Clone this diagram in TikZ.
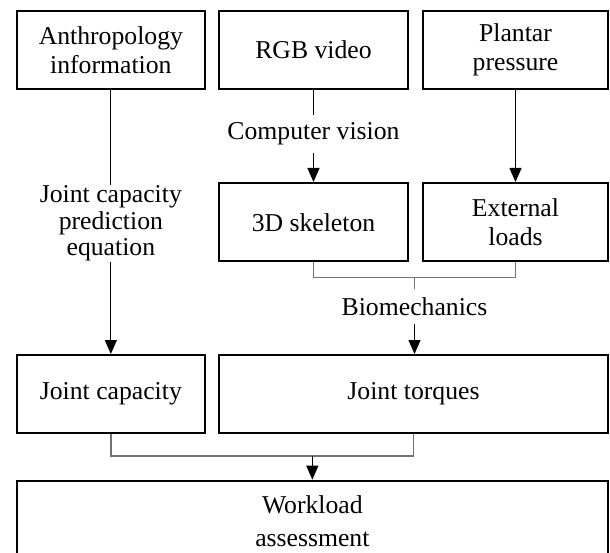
\documentclass[tikz,border=0pt]{standalone}
\usepackage{fontspec}
\setmainfont{Liberation Serif}
\usetikzlibrary{arrows.meta}
\tikzset{
  txt/.style={font=\fontsize{25.7}{28.5}\selectfont, align=center},
  box/.style={txt, draw=black, line width=2pt, inner sep=0pt},
  lbl/.style={txt, inner sep=0pt},
  conn/.style={draw=black, line width=1pt},
  arr/.style={conn, -{Triangle[width=12pt,length=14pt]}},
  brk/.style={draw=black!55, line width=1.4pt},
}
\begin{document}
\begin{tikzpicture}[x=1pt,y=-1pt]
  \useasboundingbox (0,0) rectangle (610,553);
  \begin{scope}
  \clip (0,0) rectangle (610,553);
  % top row
  \node[box, minimum width=188.3pt, minimum height=78pt] (anth) at (110.85,50) {Anthropology\\information};
  \node[box, minimum width=189pt, minimum height=78pt] (rgb) at (313.5,50) {RGB video};
  \node[box, minimum width=185pt, minimum height=78pt] (plant) at (515.5,50) {Plantar\\pressure};
  % second row
  \node[box, minimum width=189pt, minimum height=78.5pt] (skel) at (313.5,222.25) {3D skeleton};
  \node[box, minimum width=185pt, minimum height=78.5pt] (ext) at (515.5,222.25) {External\\loads};
  % third row
  \node[box, minimum width=188.3pt, minimum height=77.7pt] (jcap) at (110.85,393.85) {Joint capacity};
  \node[box, minimum width=389pt, minimum height=77.7pt] (jtor) at (413.5,393.85) {Joint torques};
  % bottom
  \node[box, minimum width=591.3pt, minimum height=81.3pt] (work) at (312.35,521.35) {Workload\\[4pt]assessment};

  % connector labels
  \node[lbl, minimum height=77pt] (jcpe) at (110.85,223.5) {Joint capacity\\[-2pt]prediction\\[-2pt]equation};
  \node[lbl, minimum height=38pt] (cv) at (313.5,134) {Computer vision};
  \node[lbl, minimum height=35pt] (bio) at (414.5,306.5) {Biomechanics};

  % connectors
  \draw[conn] (anth.south) -- (jcpe.north);
  \draw[arr] (jcpe.south) -- (jcap.north);
  \draw[conn] (rgb.south) -- (cv.north);
  \draw[arr] (cv.south) -- (skel.north);
  \draw[arr] (plant.south) -- (ext.south |- ext.north);

  % biomechanics bracket
  \coordinate (bmid) at (414.5,277.7);
  \draw[brk] (skel.south) |- (bmid) -| (ext.south);
  \draw[brk] (bmid) -- (bio.north);
  \draw[arr] (bio.south) -- (bio.south |- jtor.north);

  % workload bracket
  \coordinate (wmid) at (312.35,456);
  \draw[brk] (jcap.south) |- (wmid) -| (jtor.south);
  \draw[arr] (wmid) -- (work.north);
  \end{scope}
\end{tikzpicture}
\end{document}
